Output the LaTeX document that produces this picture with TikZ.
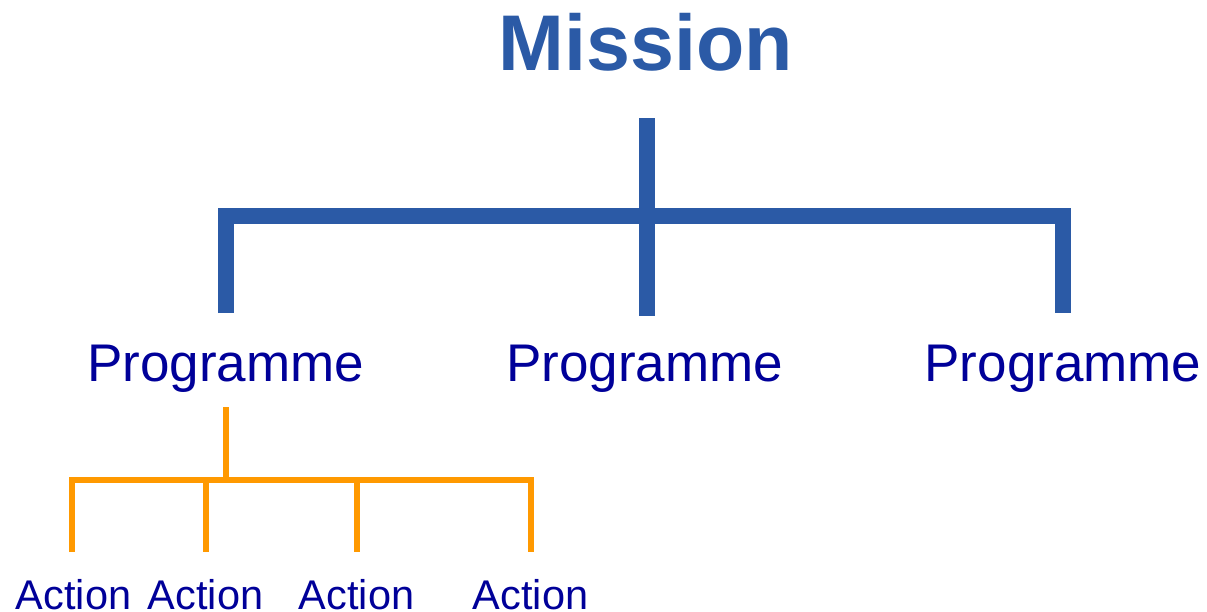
\documentclass[tikz,border=0pt]{standalone}
\usepackage{fontspec}
\setmainfont{Liberation Sans}
\definecolor{lineblue}{RGB}{43,90,166}
\definecolor{textblue}{RGB}{0,0,153}
\definecolor{actorange}{RGB}{255,153,0}
\tikzset{
  bluebar/.style={draw=lineblue, line width=16pt, line cap=butt, line join=miter},
  orangebar/.style={draw=actorange, line width=5.5pt, line cap=butt, line join=miter},
  missiontext/.style={anchor=base, inner sep=0pt, text=lineblue, font=\fontsize{79}{90}\selectfont\bfseries},
  progtext/.style={anchor=base, inner sep=0pt, text=textblue, font=\fontsize{53}{60}\selectfont},
  acttext/.style={anchor=base, inner sep=0pt, text=textblue, font=\fontsize{41.5}{48}\selectfont}
}
\begin{document}
\begin{tikzpicture}[x=1pt,y=-1pt]
\useasboundingbox (0,0) rectangle (1207,611);
% texts
\node[missiontext] (mission) at (646,70) {Mission};
\node[progtext] (p1) at (225.5,381) {Programme};
\node[progtext] (p2) at (644.5,381) {Programme};
\node[progtext] (p3) at (1063,381) {Programme};
\node[acttext] (a1) at (73.5,609) {Action};
\node[acttext] (a2) at (205.5,609) {Action};
\node[acttext] (a3) at (356.5,609) {Action};
\node[acttext] (a4) at (530.5,609) {Action};
% blue tree coordinates
\coordinate (mtop) at (647,118);
\coordinate (mj) at (647,215.5);
\coordinate (lj) at (226,215.5);
\coordinate (rj) at (1063,215.5);
\coordinate (lb) at (226,313);
\coordinate (mb) at (647,316);
\coordinate (rb) at (1063,313);
\draw[bluebar] (mtop) -- (mj);
\draw[bluebar] (lb) -- (lj) -- (rj) -- (rb);
\draw[bluebar] (mj) -- (mb);
% orange tree coordinates
\coordinate (otop) at (226,407);
\coordinate (oj) at (226,480);
\coordinate (o1j) at (72,480);
\coordinate (o2j) at (206,480);
\coordinate (o3j) at (357,480);
\coordinate (o4j) at (531,480);
\coordinate (o1b) at (72,552);
\coordinate (o2b) at (206,552);
\coordinate (o3b) at (357,552);
\coordinate (o4b) at (531,552);
\draw[orangebar] (otop) -- (oj);
\draw[orangebar] (o1b) -- (o1j) -- (o4j) -- (o4b);
\draw[orangebar] (o2j) -- (o2b);
\draw[orangebar] (o3j) -- (o3b);
\end{tikzpicture}
\end{document}
